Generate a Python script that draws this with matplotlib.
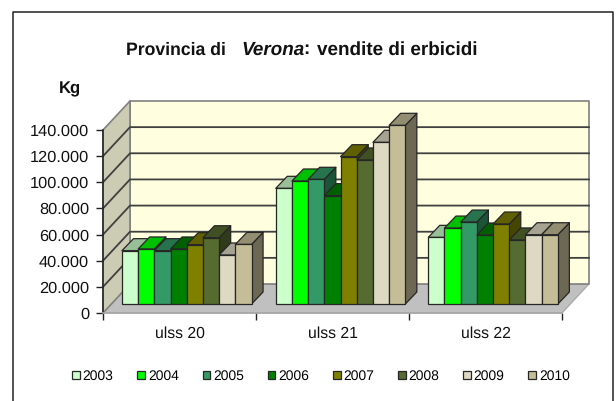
import matplotlib
matplotlib.use("Agg")
import matplotlib.pyplot as plt
from matplotlib.patches import Polygon
from matplotlib.colors import to_rgb
import numpy as np

plt.rcParams['font.family'] = ['Liberation Sans', 'DejaVu Sans']
plt.rcParams['text.hinting'] = 'none'

# dati
categories = ["ulss 20", "ulss 21", "ulss 22"]
years = ["2003", "2004", "2005", "2006", "2007", "2008", "2009", "2010"]
ulss20 = [40800, 42100, 40800, 42100, 45400, 50700, 37500, 45600]
ulss21 = [88500, 94100, 95400, 82900, 112700, 110200, 123700, 136700]
ulss22 = [51000, 58100, 62700, 52800, 61200, 49000, 53000, 53000]
colors = ["#CCFFCC", "#00FF00", "#339966", "#008000", "#808000", "#556B2F", "#DDD9C3", "#C4BD97"]
y_ticks = [0, 20000, 40000, 60000, 80000, 100000, 120000, 140000]

W, H = 616, 401
X0, X1, Y0, Y1 = 103, 562, 313, 130   # piano frontale in pixel

fig = plt.figure(figsize=(W / 100, H / 100), dpi=100)
ax = fig.add_axes([X0 / W, 1 - Y0 / H, (X1 - X0) / W, (Y0 - Y1) / H])
ax.set_xlim(0, 3)
ax.set_ylim(0, 140000)

# conversione pixel -> unita' dei dati
ux = 3 / (X1 - X0)
uy = 140000 / (Y0 - Y1)


def darker(c, f):
    return tuple(v * f for v in to_rgb(c))


def poly(pts, fc, ec="#404040", lw=0.9, z=1):
    ax.add_patch(Polygon(pts, closed=True, fc=fc, ec=ec, lw=lw, zorder=z,
                         clip_on=False, joinstyle="round"))


# pareti e pavimento
dx = 27 * ux
dy = 29 * uy
poly([(0, 0), (3, 0), (3 + dx, dy), (dx, dy)], "#C0C0C0", ec="#A8A8A8", z=1)
poly([(dx, dy), (3 + dx, dy), (3 + dx, 140000 + dy), (dx, 140000 + dy)], "#FFFFE0", ec="#808080", lw=1.2, z=1)
poly([(0, 0), (dx, dy), (dx, 140000 + dy), (0, 140000)], "#CCCCB4", ec="#808080", lw=1.2, z=1)
for v in y_ticks[1:-1]:
    ax.plot([0, dx, 3 + dx], [v, v + dy, v + dy], color="#404040", lw=1.3, zorder=2, clip_on=False)

# barre 3D: facce superiori e laterali costruite dai valori
bar_w = 16.2 * ux
base = 9 * uy
ddx = 11.5 * ux
ddy = 12 * uy
series = np.array([ulss20, ulss21, ulss22])
starts = [0.124, 1.129, 2.126]
handles = []
for g, start in enumerate(starts):
    for i, year in enumerate(years):
        v = series[g][i] + base
        left = start + i * bar_w
        right = left + bar_w
        z = 3 + g * 10 + i * 0.1
        poly([(right, base), (right + ddx, base + ddy), (right + ddx, v + ddy), (right, v)],
             darker(colors[i], 0.55), ec="#262626", z=z)
        poly([(left, v), (right, v), (right + ddx, v + ddy), (left + ddx, v + ddy)],
             darker(colors[i], 0.75), ec="#262626", z=z)
        b = ax.bar(left, series[g][i], width=bar_w, bottom=base, align="edge", color=colors[i],
                   edgecolor="#262626", linewidth=0.9, zorder=z + 0.01, clip_on=False,
                   label=year if g == 0 else None)
        if g == 0:
            handles.append(b)

# assi
for s in ["top", "right"]:
    ax.spines[s].set_visible(False)
ax.spines["left"].set_color("#222222")
ax.spines["left"].set_linewidth(1.1)
ax.spines["bottom"].set_color("#A8A8A8")
ax.spines["bottom"].set_linewidth(1.2)
ax.patch.set_visible(False)
ax.set_yticks(y_ticks)
ax.set_yticklabels([f"{v:,}".replace(",", ".") for v in y_ticks], fontsize=11.8, color="#111111")
ax.set_xticks([0, 1, 2, 3])
ax.set_xticklabels([])
ax.set_xticks([0.5, 1.5, 2.5], minor=True)
ax.set_xticklabels(categories, minor=True, fontsize=11.3, color="#111111")
ax.tick_params(axis="x", which="major", length=5, width=1, color="#222222", direction="out")
ax.tick_params(axis="x", which="minor", length=0, pad=9.5)
ax.tick_params(axis="y", length=5, width=1, color="#222222", pad=5)

# legenda
leg = fig.legend(handles=handles, loc="center", bbox_to_anchor=(321 / W, 1 - 376 / H), ncol=8,
                 frameon=False, fontsize=10, handlelength=0.55, handleheight=0.55,
                 handletextpad=0.2, columnspacing=1.72, borderpad=0)
for p in leg.get_patches():
    p.set_linewidth(0.9)

# titolo a pezzi per il corsivo
title_y = 1 - 54.5 / H
fig.text(126 / W, title_y, "Provincia di", fontsize=12.7, fontweight="bold", color="#111111")
fig.text(241 / W, title_y, "Verona", fontsize=13.6, fontweight="bold", fontstyle="italic", color="#111111")
fig.text(303.5 / W, title_y, ":", fontsize=13.6, fontweight="bold", color="#111111")
fig.text(317 / W, title_y, "vendite di erbicidi", fontsize=13.6, fontweight="bold", color="#111111")
fig.text(70 / W, 1 - 89 / H, "Kg", fontsize=12, fontweight="bold", color="#111111", ha="center", va="center")

# cornice esterna, aperta in basso
fig.add_artist(plt.Line2D([13 / W, 13 / W, 612.7 / W, 612.7 / W], [0, 1 - 12 / H, 1 - 12 / H, 0],
                          color="#222222", lw=1.1, transform=fig.transFigure))

fig.savefig("out.png", dpi=100)
